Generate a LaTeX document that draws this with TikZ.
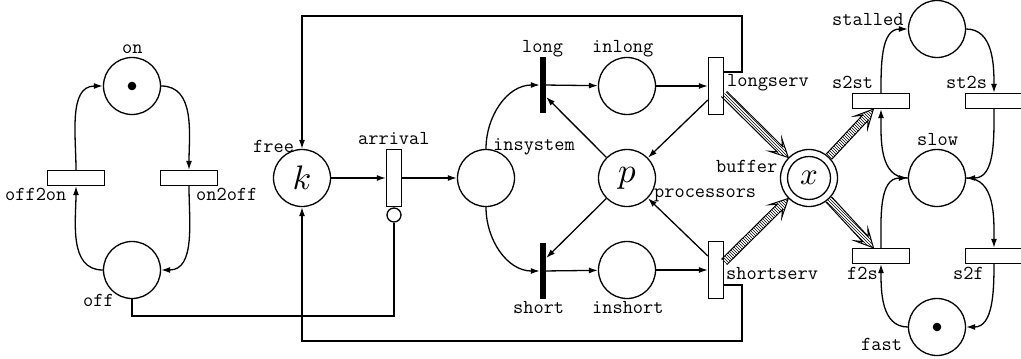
\documentclass[tikz,border=0pt]{standalone}
\usepackage{graphicx}
\usepackage{fontspec}
\usetikzlibrary{arrows.meta,calc,patterns}
\newcommand\fluidarc[2]{%
  \path (#1) -- coordinate[pos=0] (fS) coordinate[pos=1] (fT) (#2);
  \coordinate (fH) at ($(fT)!18pt!(fS)$);
  \coordinate (fJ) at ($(fT)!12pt!(fS)$);
  \fill[pattern=north west lines]
    ($(fS)!3.8pt!90:(fT)$) -- ($(fJ)!3.8pt!90:(fT)$) -- ($(fH)!9pt!90:(fT)$) -- (fT)
    -- ($(fH)!9pt!-90:(fT)$) -- ($(fJ)!3.8pt!-90:(fT)$) -- ($(fS)!3.8pt!-90:(fT)$) -- cycle;
  \draw[line width=1pt,line join=miter]
    ($(fS)!3.8pt!90:(fT)$) -- ($(fJ)!3.8pt!90:(fT)$) -- ($(fH)!9pt!90:(fT)$) -- (fT)
    -- ($(fH)!9pt!-90:(fT)$) -- ($(fJ)!3.8pt!-90:(fT)$) -- ($(fS)!3.8pt!-90:(fT)$);
}
\newcommand\bigmath[2]{\scalebox{#1}{$#2$}}
\begin{document}
\begin{tikzpicture}[x=1pt,y=1pt,
  place/.style={circle,draw,line width=1.3pt,minimum size=57pt,inner sep=0pt},
  htrans/.style={rectangle,draw,line width=1.3pt,minimum width=57pt,minimum height=15pt,inner sep=0pt},
  vtrans/.style={rectangle,draw,line width=1.3pt,minimum width=15pt,minimum height=57pt,inner sep=0pt},
  itrans/.style={rectangle,fill=black,minimum width=6pt,minimum height=56pt,inner sep=0pt},
  inhib/.style={circle,draw,line width=1.3pt,minimum size=14pt,inner sep=0pt},
  arc/.style={line width=1.3pt,-{Latex[length=9pt,width=6pt]}},
  plain/.style={line width=1.3pt},
  lbl/.style={font=\ttfamily\fontsize{19.8}{19.8}\selectfont,inner sep=0pt,anchor=base west},
  token/.style={fill=black},
]
\useasboundingbox (0,0) rectangle (1021,-359);

% places
\node[place] (on) at (132,-86) {};
\node[place] (off) at (132,-270) {};
\node[place] (free) at (302,-178) {\bigmath{3.4}{k}};
\node[place] (insystem) at (486,-178) {};
\node[place] (inlong) at (627,-86) {};
\node[place] (inshort) at (627,-270) {};
\node[place] (proc) at (627,-178) {\bigmath{3.5}{p}};
\node[place] (buffer) at (809,-178) {};
\node[circle,draw,line width=1.3pt,minimum size=43pt,inner sep=0pt] (bufin) at (809,-178) {\bigmath{3.1}{x}};
\node[place] (stalled) at (937,-29) {};
\node[place] (slow) at (937,-178) {};
\node[place] (fast) at (937,-327) {};
\fill[token] (on.center) circle[radius=4.3pt];
\fill[token] (fast.center) circle[radius=4.3pt];

% transitions
\node[htrans] (off2on) at (76,-178) {};
\node[htrans] (on2off) at (189,-178) {};
\node[vtrans] (arrival) at (394,-178) {};
\node[inhib] (inh) at (394,-215) {};
\node[itrans] (long) at (543,-85) {};
\node[itrans] (short) at (543,-271) {};
\node[vtrans] (longserv) at (716,-86) {};
\node[vtrans] (shortserv) at (716,-270) {};
\node[htrans] (s2st) at (881,-101) {};
\node[htrans] (st2s) at (994,-101) {};
\node[htrans] (f2s) at (881,-256) {};
\node[htrans] (s2f) at (994,-256) {};

% labels
\node[lbl] (l-on) at (122,-53) {on};
\node[lbl] (l-off2on) at (5,-200) {off2on};
\node[lbl] (l-on2off) at (196,-200) {on2off};
\node[lbl] (l-off) at (83,-306) {off};
\node[lbl] (l-free) at (253,-152) {free};
\node[lbl] (l-arrival) at (358,-144) {arrival};
\node[lbl] (l-insystem) at (493,-150) {insystem};
\node[lbl] (l-long) at (522,-52) {long};
\node[lbl] (l-short) at (513,-313) {short};
\node[lbl] (l-inlong) at (592,-52) {inlong};
\node[lbl] (l-inshort) at (592,-313) {inshort};
\node[lbl] (l-longserv) at (727,-86) {longserv};
\node[lbl] (l-proc) at (654,-197) {processors};
\node[lbl] (l-buffer) at (716,-172) {buffer};
\node[lbl] (l-shortserv) at (726,-279) {shortserv};
\node[lbl] (l-stalled) at (832,-25) {stalled};
\node[lbl] (l-s2st) at (832,-88) {s2st};
\node[lbl] (l-st2s) at (946,-88) {st2s};
\node[lbl] (l-slow) at (917,-145) {slow};
\node[lbl] (l-f2s) at (847,-279) {f2s};
\node[lbl] (l-s2f) at (953,-279) {s2f};
\node[lbl] (l-fast) at (861,-350) {fast};

% left subnet
\draw[arc] (on.east) to[out=0,in=90] (on2off.north);
\draw[arc] (on2off.south) to[out=-90,in=0] (off.east);
\draw[arc] (off.west) to[out=180,in=-90] (off2on.south);
\draw[arc] (off2on.north) to[out=90,in=180] (on.west);
\draw[plain] (off.south) |- (394,-316) -- (inh.south);

% middle
\draw[arc] (free) -- (arrival);
\draw[arc] (arrival) -- (insystem);
\draw[arc] (insystem.north) to[out=90,in=180] (long.west);
\draw[arc] (insystem.south) to[out=-90,in=180] (short.west);
\draw[arc] (long) -- (inlong);
\draw[arc] (inlong) -- (longserv);
\draw[arc] (short) -- (inshort);
\draw[arc] (inshort) -- (shortserv);
\draw[arc] (proc) -- ([yshift=-12pt]long.east);
\draw[arc] (proc) -- ([yshift=13pt]short.east);
\draw[arc] ([yshift=-14pt]longserv.west) -- (proc);
\draw[arc] ([yshift=14pt]shortserv.west) -- (proc);
\draw[arc] ([yshift=14pt]longserv.east) -| (742,-16) -| (free.north);
\draw[arc] ([yshift=-15pt]shortserv.east) -| (742,-341) -| (free.south);

% fluid arcs
\fluidarc{longserv}{buffer}
\fluidarc{shortserv}{buffer}
\fluidarc{buffer}{s2st}
\fluidarc{buffer}{f2s}

% right subnet
\draw[arc] (slow.west) to[out=180,in=-90] (s2st.south);
\draw[arc] (s2st.north) to[out=90,in=180] (stalled.west);
\draw[arc] (stalled.east) to[out=0,in=90] (st2s.north);
\draw[arc] (st2s.south) to[out=-90,in=0] (slow.east);
\draw[arc] (slow.east) to[out=0,in=90] (s2f.north);
\draw[arc] (s2f.south) to[out=-90,in=0] (fast.east);
\draw[arc] (fast.west) to[out=180,in=-90] (f2s.south);
\draw[arc] (f2s.north) to[out=90,in=180] (slow.west);
\end{tikzpicture}
\end{document}
